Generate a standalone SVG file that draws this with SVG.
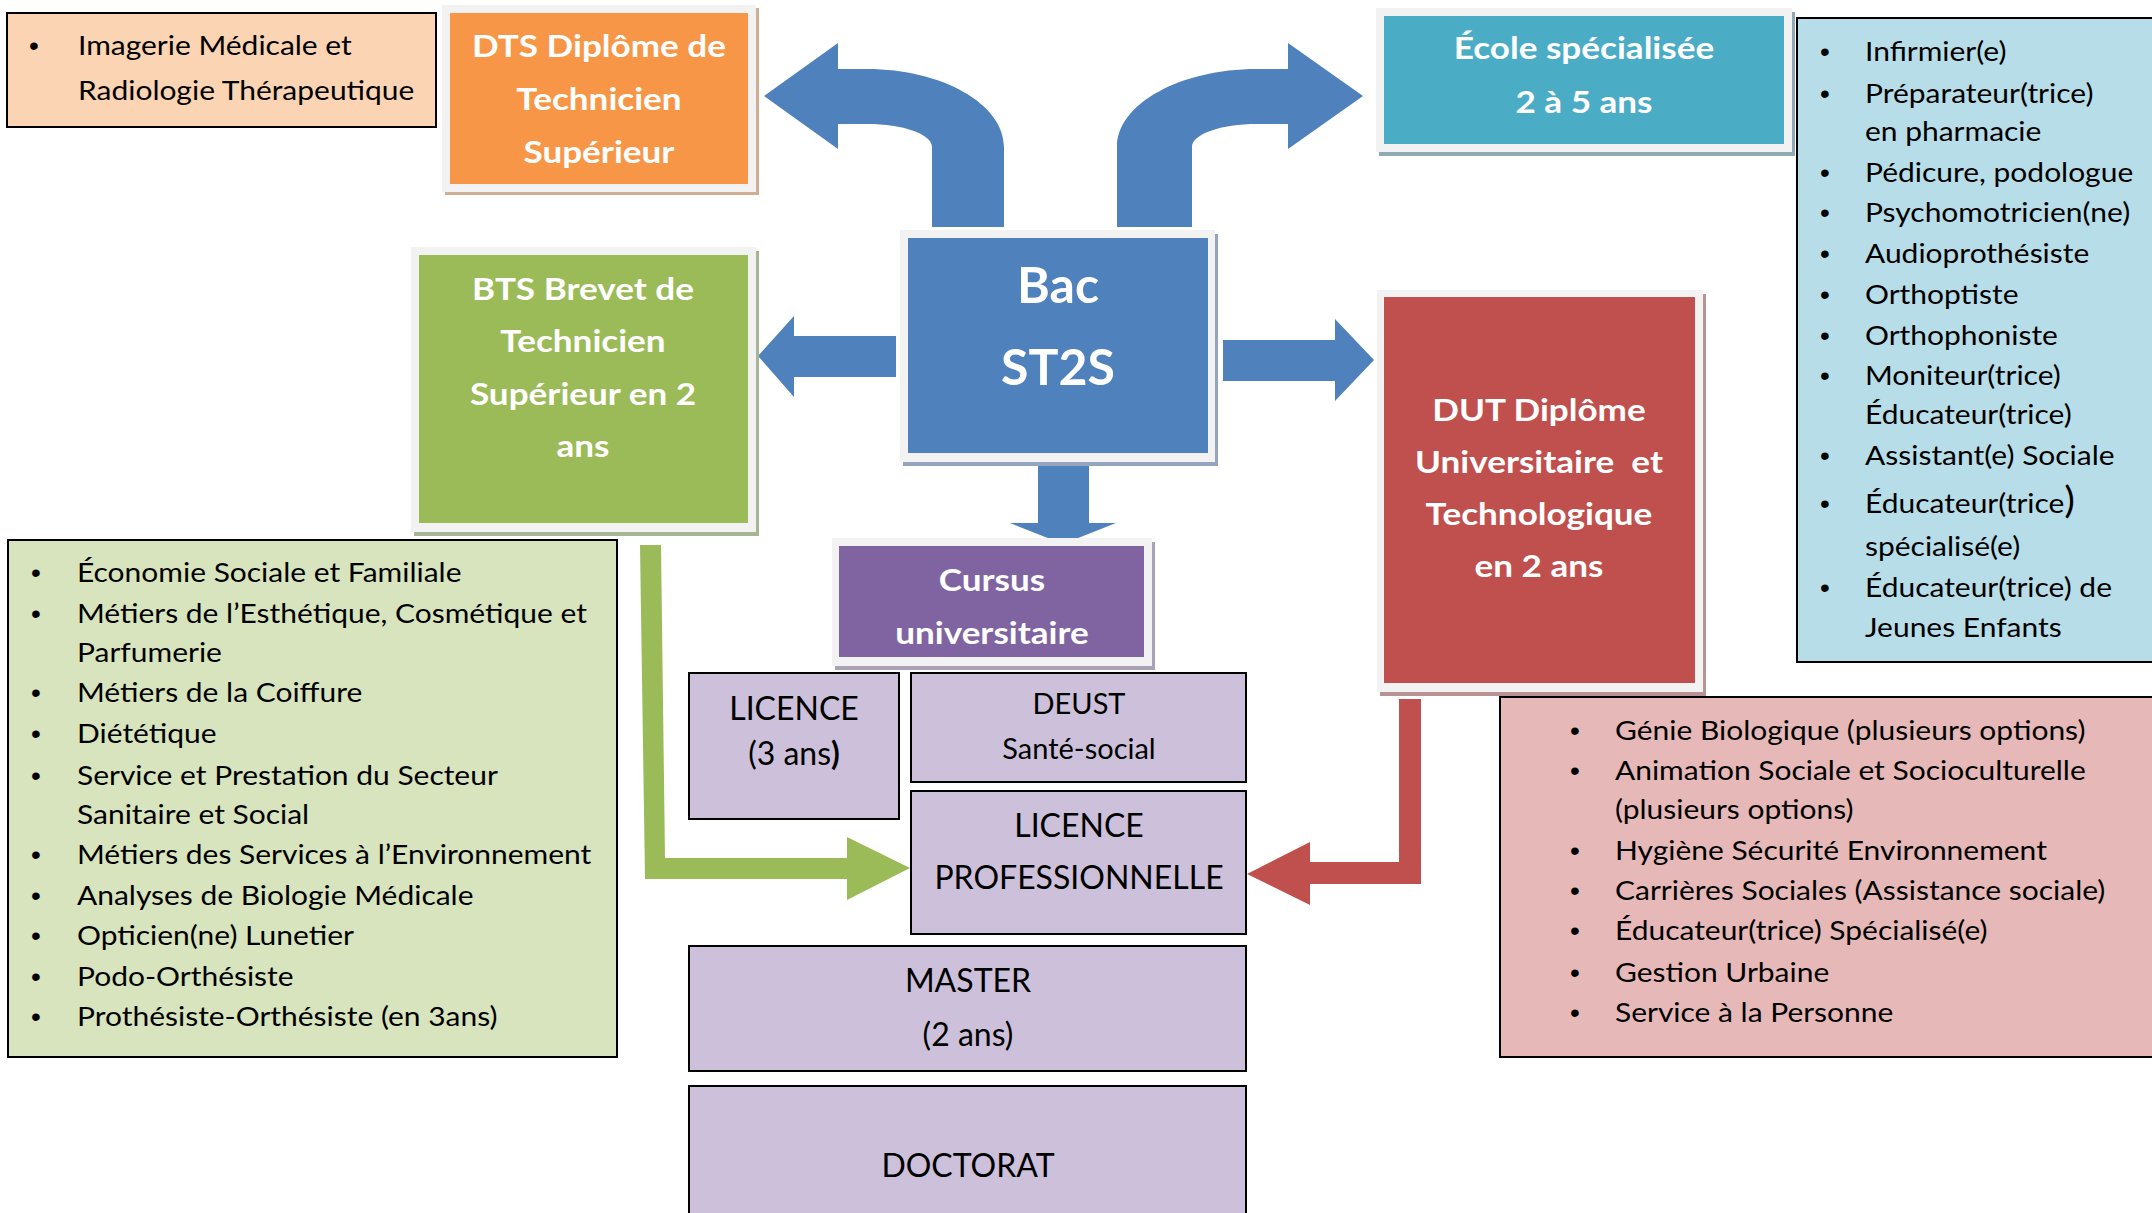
<svg xmlns="http://www.w3.org/2000/svg" width="2152" height="1213" viewBox="0 0 2152 1213">
<style>
.list{font-family:Lato,"Liberation Sans",sans-serif;font-size:27px;fill:#000;transform-box:fill-box;transform-origin:left center;transform:scaleX(1.11)}
.bul{font-family:"Liberation Sans",sans-serif;font-size:28px;fill:#000;text-anchor:middle}
.ttl{font-family:Lato,"Liberation Sans",sans-serif;font-weight:700;font-size:30px;fill:#fff;text-anchor:middle;transform-box:fill-box;transform-origin:center;transform:scaleX(1.17)}
.big{font-size:50px;transform:none}
.lil{font-family:Lato,"Liberation Sans",sans-serif;font-size:32px;fill:#000;text-anchor:middle}
.sm{font-size:29px}
.frame{fill:#F2F2F2}
.box{stroke:#000;stroke-width:2}
</style>
<rect width="2152" height="1213" fill="#fff"/>
<g id="connectors">
<path fill="#4F81BD" d="M932 227 L932 147 C932 134 903 124 867 124 L838 124 L838 149 L764 96 L838 43 L838 69 L867 69 C942 69 1004 104 1004 147 L1004 227 Z"/>
<path fill="#4F81BD" d="M1117 227 L1117 147 C1117 104 1180 69 1257 69 L1288 69 L1288 43 L1363 96 L1288 149 L1288 124 L1257 124 C1221 124 1192 134 1192 147 L1192 227 Z"/>
<polygon fill="#4F81BD" points="896,336 794,336 794,316 758,356 794,397 794,377 896,377"/>
<polygon fill="#4F81BD" points="1223,340 1335,340 1335,319 1374,360 1335,401 1335,381 1223,381"/>
<polygon fill="#4F81BD" points="1038,462 1089,462 1089,523 1116,523 1063,544 1010,523 1038,523"/>
<polygon fill="#9BBB59" points="640,545 661,545 665,858 847,858 847,837 910,868 847,900 847,879 645,879"/>
<polygon fill="#C0504D" points="1399,699 1421,699 1421,884 1310,884 1310,905 1247,874 1310,842 1310,862 1399,862"/>
</g>
<g id="imagerie">
<rect class="box" x="7" y="13" width="429" height="114" fill="#FBD4B4"/>
<text class="bul" x="34" y="55">•</text>
<text class="list" x="78" y="55">Imagerie Médicale et</text>
<text class="list" x="78" y="100">Radiologie Thérapeutique</text>
</g>
<g id="dts">
<rect x="445" y="8" width="314" height="187" fill="#CFAE94"/>
<rect class="frame" x="442" y="5" width="314" height="187"/>
<rect x="450" y="13" width="298" height="171" fill="#F79646"/>
<text class="ttl" x="599" y="57">DTS Diplôme de</text>
<text class="ttl" x="599" y="110">Technicien</text>
<text class="ttl" x="599" y="163">Supérieur</text>
</g>
<g id="ecole">
<rect x="1379" y="12" width="416" height="144" fill="#8FAAB2"/>
<rect class="frame" x="1376" y="8" width="416" height="144"/>
<rect x="1384" y="16" width="400" height="128" fill="#4BACC6"/>
<text class="ttl" x="1584" y="59">École spécialisée</text>
<text class="ttl" x="1584" y="113">2 à 5 ans</text>
</g>
<g id="metiers-ecole">
<rect class="box" x="1797" y="18" width="370" height="644" fill="#B7DDE8"/>
<text class="bul" x="1825" y="61">•</text><text class="list" x="1865" y="61">Infirmier(e)</text>
<text class="bul" x="1825" y="103">•</text><text class="list" x="1865" y="103">Préparateur(trice)</text>
<text class="list" x="1865" y="141">en pharmacie</text>
<text class="bul" x="1825" y="182">•</text><text class="list" x="1865" y="182">Pédicure, podologue</text>
<text class="bul" x="1825" y="222">•</text><text class="list" x="1865" y="222">Psychomotricien(ne)</text>
<text class="bul" x="1825" y="263">•</text><text class="list" x="1865" y="263">Audioprothésiste</text>
<text class="bul" x="1825" y="304">•</text><text class="list" x="1865" y="304">Orthoptiste</text>
<text class="bul" x="1825" y="345">•</text><text class="list" x="1865" y="345">Orthophoniste</text>
<text class="bul" x="1825" y="385">•</text><text class="list" x="1865" y="385">Moniteur(trice)</text>
<text class="list" x="1865" y="424">Éducateur(trice)</text>
<text class="bul" x="1825" y="465">•</text><text class="list" x="1865" y="465">Assistant(e) Sociale</text>
<text class="bul" x="1825" y="513">•</text><text class="list" x="1865" y="513">Éducateur(trice<tspan font-size="36">)</tspan></text>
<text class="list" x="1865" y="556">spécialisé(e)</text>
<text class="bul" x="1825" y="597">•</text><text class="list" x="1865" y="597">Éducateur(trice) de</text>
<text class="list" x="1865" y="637">Jeunes Enfants</text>
</g>
<g id="bac">
<rect x="903" y="234" width="315" height="232" fill="#95A5BD"/>
<rect class="frame" x="900" y="230" width="315" height="232"/>
<rect x="908" y="238" width="300" height="215" fill="#4F81BD"/>
<text class="ttl big" x="1058" y="303">Bac</text>
<text class="ttl big" x="1058" y="385">ST2S</text>
</g>
<g id="bts">
<rect x="414" y="251" width="345" height="285" fill="#A8B594"/>
<rect class="frame" x="411" y="247" width="345" height="285"/>
<rect x="419" y="255" width="329" height="268" fill="#9BBB59"/>
<text class="ttl" x="583" y="300">BTS Brevet de</text>
<text class="ttl" x="583" y="352">Technicien</text>
<text class="ttl" x="583" y="405">Supérieur en 2</text>
<text class="ttl" x="583" y="457">ans</text>
</g>
<g id="dut">
<rect x="1380" y="294" width="326" height="402" fill="#B99393"/>
<rect class="frame" x="1377" y="290" width="326" height="402"/>
<rect x="1384" y="297" width="311" height="386" fill="#C0504D"/>
<text class="ttl" x="1539" y="421">DUT Diplôme</text>
<text class="ttl" x="1539" y="473" style="white-space:pre">Universitaire  et</text>
<text class="ttl" x="1539" y="525">Technologique</text>
<text class="ttl" x="1539" y="577">en 2 ans</text>
</g>
<g id="bts-list">
<rect class="box" x="8" y="540" width="609" height="517" fill="#D7E4BD"/>
<text class="bul" x="36" y="582">•</text><text class="list" x="77" y="582">Économie Sociale et Familiale</text>
<text class="bul" x="36" y="623">•</text><text class="list" x="77" y="623">Métiers de l’Esthétique, Cosmétique et</text>
<text class="list" x="77" y="662">Parfumerie</text>
<text class="bul" x="36" y="702">•</text><text class="list" x="77" y="702">Métiers de la Coiffure</text>
<text class="bul" x="36" y="743">•</text><text class="list" x="77" y="743">Diététique</text>
<text class="bul" x="36" y="785">•</text><text class="list" x="77" y="785">Service et Prestation du Secteur</text>
<text class="list" x="77" y="824">Sanitaire et Social</text>
<text class="bul" x="36" y="864">•</text><text class="list" x="77" y="864">Métiers des Services à l’Environnement</text>
<text class="bul" x="36" y="905">•</text><text class="list" x="77" y="905">Analyses de Biologie Médicale</text>
<text class="bul" x="36" y="945">•</text><text class="list" x="77" y="945">Opticien(ne) Lunetier</text>
<text class="bul" x="36" y="986">•</text><text class="list" x="77" y="986">Podo-Orthésiste</text>
<text class="bul" x="36" y="1026">•</text><text class="list" x="77" y="1026">Prothésiste-Orthésiste (en 3ans)</text>
</g>
<g id="cursus">
<rect x="835" y="542" width="320" height="128" fill="#A9A2B4"/>
<rect class="frame" x="832" y="538" width="320" height="128"/>
<rect x="839" y="546" width="305" height="111" fill="#8064A2"/>
<text class="ttl" x="992" y="591">Cursus</text>
<text class="ttl" x="992" y="644">universitaire</text>
</g>
<g id="licence">
<rect class="box" x="689" y="673" width="210" height="146" fill="#CCC0DA"/>
<text class="lil" x="794" y="720">LICENCE</text>
<text class="lil" x="794" y="765">(3 ans<tspan font-weight="700">)</tspan></text>
</g>
<g id="deust">
<rect class="box" x="911" y="673" width="335" height="109" fill="#CCC0DA"/>
<text class="lil sm" x="1079" y="714">DEUST</text>
<text class="lil sm" x="1079" y="759">Santé-social</text>
</g>
<g id="licence-pro">
<rect class="box" x="911" y="791" width="335" height="143" fill="#CCC0DA"/>
<text class="lil" x="1079" y="837">LICENCE</text>
<text class="lil" x="1079" y="889">PROFESSIONNELLE</text>
</g>
<g id="master">
<rect class="box" x="689" y="946" width="557" height="125" fill="#CCC0DA"/>
<text class="lil" x="968" y="992">MASTER</text>
<text class="lil" x="968" y="1046">(2 ans)</text>
</g>
<g id="doctorat">
<rect class="box" x="689" y="1086" width="557" height="150" fill="#CCC0DA"/>
<text class="lil" x="968" y="1177">DOCTORAT</text>
</g>
<g id="dut-list">
<rect class="box" x="1500" y="697" width="670" height="360" fill="#E6B9B8"/>
<text class="bul" x="1575" y="740">•</text><text class="list" x="1615" y="740">Génie Biologique (plusieurs options)</text>
<text class="bul" x="1575" y="780">•</text><text class="list" x="1615" y="780">Animation Sociale et Socioculturelle</text>
<text class="list" x="1615" y="819">(plusieurs options)</text>
<text class="bul" x="1575" y="860">•</text><text class="list" x="1615" y="860">Hygiène Sécurité Environnement</text>
<text class="bul" x="1575" y="900">•</text><text class="list" x="1615" y="900">Carrières Sociales (Assistance sociale)</text>
<text class="bul" x="1575" y="940">•</text><text class="list" x="1615" y="940">Éducateur(trice) Spécialisé(e)</text>
<text class="bul" x="1575" y="982">•</text><text class="list" x="1615" y="982">Gestion Urbaine</text>
<text class="bul" x="1575" y="1022">•</text><text class="list" x="1615" y="1022">Service à la Personne</text>
</g>
</svg>
